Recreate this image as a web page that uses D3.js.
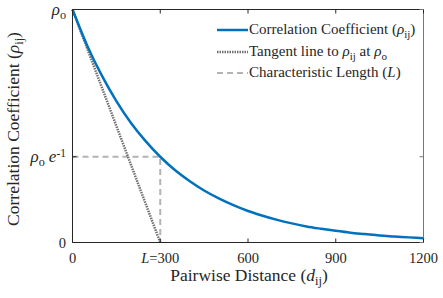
<!DOCTYPE html>
<html><head><meta charset="utf-8">
<script src="https://cdn.jsdelivr.net/npm/d3@7"></script>
<style>body{margin:0;background:#fff}svg{display:block}text{font-family:"Liberation Serif","Times New Roman",serif;fill:#262626}</style>
</head><body><svg id="c" width="443" height="298"></svg>
<script>
const distance = [0,50,100,150,200,250,300,350,400,450,500,550,600,650,700,750,800,850,900,950,1000,1050,1100,1150,1200];
const correlation = [1,0.846,0.717,0.607,0.513,0.435,0.368,0.311,0.264,0.223,0.189,0.160,0.135,0.115,0.097,0.082,0.069,0.059,0.050,0.042,0.036,0.030,0.026,0.022,0.018];
const tangentX = [0,300];
const tangentY = [1,0];
const charX = [0,300,300];
const charY = [0.368,0.368,0];
const xTicks = [0,300,600,900,1200];
const xTickLabels = ["0","L=300","600","900","1200"];
const yTicks = [0,0.368,1];
const yTickLabels = ["0","ρo e-1","ρo"];
const legendLabels = ["Correlation Coefficient","Tangent line to","Characteristic Length"];

const svg = d3.select("#c");
const L=72.5, R=423.5, T=9.5, B=242.5;
const x = d3.scaleLinear().domain([0,1200]).range([L,R]);
const y = d3.scaleLinear().domain([0,1]).range([B,T]);
const ax = "#262626";

const line = (xs,ys,c)=>d3.line().x((d,i)=>x(xs[i])).y((d,i)=>y(ys[i])).curve(c||d3.curveLinear)(xs);
svg.append("path").attr("d",line(charX,charY)).attr("fill","none").attr("stroke","#b3b3b3").attr("stroke-width",2).attr("stroke-dasharray","6,4");
svg.append("path").attr("d",line(tangentX,tangentY)).attr("fill","none").attr("stroke","#707070").attr("stroke-width",2.5).attr("stroke-dasharray","1.5,1");
svg.append("path").attr("d",line(distance,correlation,d3.curveMonotoneX)).attr("fill","none").attr("stroke","#0072BD").attr("stroke-width",2.5);

const g = svg.append("g");
g.append("line").attr("x1",L).attr("x2",R).attr("y1",B).attr("y2",B).attr("stroke",ax);
g.append("line").attr("x1",L).attr("x2",L).attr("y1",T).attr("y2",B).attr("stroke",ax);
g.append("line").attr("x1",L).attr("x2",R).attr("y1",T).attr("y2",T).attr("stroke",ax);
g.append("line").attr("x1",R).attr("x2",R).attr("y1",T).attr("y2",B).attr("stroke","#777");
xTicks.forEach(t=>{
  g.append("line").attr("x1",x(t)).attr("x2",x(t)).attr("y1",B).attr("y2",B-4).attr("stroke",ax);
  g.append("line").attr("x1",x(t)).attr("x2",x(t)).attr("y1",T).attr("y2",T+4).attr("stroke",ax);
});
yTicks.forEach(t=>{
  g.append("line").attr("x1",L).attr("x2",L+4).attr("y1",y(t)).attr("y2",y(t)).attr("stroke",ax);
  g.append("line").attr("x1",R).attr("x2",R-4).attr("y1",y(t)).attr("y2",y(t)).attr("stroke","#777");
});

const fs=14.5;
xTicks.forEach((t,i)=>{
  const tx = svg.append("text").attr("x",x(t)).attr("y",263).attr("text-anchor","middle").attr("font-size",fs);
  const lab = xTickLabels[i];
  if(lab.startsWith("L=")){
    tx.append("tspan").attr("font-style","italic").text("L");
    tx.append("tspan").text(lab.slice(1));
  } else tx.text(lab);
});
function rhoO(t, big){
  t.append("tspan").attr("font-style","italic").attr("font-size",big).text("ρ");
  t.append("tspan").attr("font-size",big*0.72).attr("dy",4).text("o");
}
yTicks.forEach((v,i)=>{
  const lab = yTickLabels[i];
  const t = svg.append("text").attr("x",66).attr("y",y(v)+5).attr("text-anchor","end").attr("font-size",fs);
  if(lab==="0"){ t.text("0"); }
  else if(lab==="ρo"){ rhoO(t,17); }
  else {
    rhoO(t,17);
    t.append("tspan").attr("font-style","italic").attr("dy",-4).attr("dx",4).attr("font-size",17).text("e");
    t.append("tspan").attr("font-size",11.5).attr("dy",-5).text("-1");
  }
});

const xl = svg.append("text").attr("x",249).attr("y",281).attr("text-anchor","middle").attr("font-size",17.5);
xl.append("tspan").text("Pairwise Distance (");
xl.append("tspan").attr("font-style","italic").text("d");
xl.append("tspan").attr("font-size",12.5).attr("dy",4).text("ij");
xl.append("tspan").attr("dy",-4).text(")");

const yl = svg.append("text").attr("transform","translate(19,129) rotate(-90)").attr("text-anchor","middle").attr("font-size",17.5);
yl.append("tspan").text("Correlation Coefficient (");
yl.append("tspan").attr("font-style","italic").text("ρ");
yl.append("tspan").attr("font-size",12.5).attr("dy",4).text("ij");
yl.append("tspan").attr("dy",-4).text(")");

const lg = svg.append("g");
const lx1=217, lx2=248, ly=[30,52,73], lfs=15;
lg.append("line").attr("x1",lx1).attr("x2",lx2).attr("y1",ly[0]).attr("y2",ly[0]).attr("stroke","#0072BD").attr("stroke-width",2.5);
lg.append("line").attr("x1",lx1).attr("x2",lx2).attr("y1",ly[1]).attr("y2",ly[1]).attr("stroke","#707070").attr("stroke-width",2.5).attr("stroke-dasharray","1.5,1");
lg.append("line").attr("x1",lx1).attr("x2",lx2).attr("y1",ly[2]).attr("y2",ly[2]).attr("stroke","#b3b3b3").attr("stroke-width",2).attr("stroke-dasharray","6,4");
let t0 = lg.append("text").attr("x",249).attr("y",ly[0]+4).attr("font-size",lfs);
t0.append("tspan").text(legendLabels[0]+" (");
t0.append("tspan").attr("font-style","italic").text("ρ");
t0.append("tspan").attr("font-size",11).attr("dy",4).text("ij");
t0.append("tspan").attr("dy",-4).text(")");
let t1 = lg.append("text").attr("x",249).attr("y",ly[1]+4).attr("font-size",lfs);
t1.append("tspan").text(legendLabels[1]+" ");
t1.append("tspan").attr("font-style","italic").text("ρ");
t1.append("tspan").attr("font-size",11).attr("dy",4).text("ij");
t1.append("tspan").attr("dy",-4).text(" at ");
t1.append("tspan").attr("font-style","italic").text("ρ");
t1.append("tspan").attr("font-size",11).attr("dy",4).text("o");
let t2 = lg.append("text").attr("x",249).attr("y",ly[2]+4).attr("font-size",lfs);
t2.append("tspan").text(legendLabels[2]+" (");
t2.append("tspan").attr("font-style","italic").text("L");
t2.append("tspan").text(")");
</script></body></html>
